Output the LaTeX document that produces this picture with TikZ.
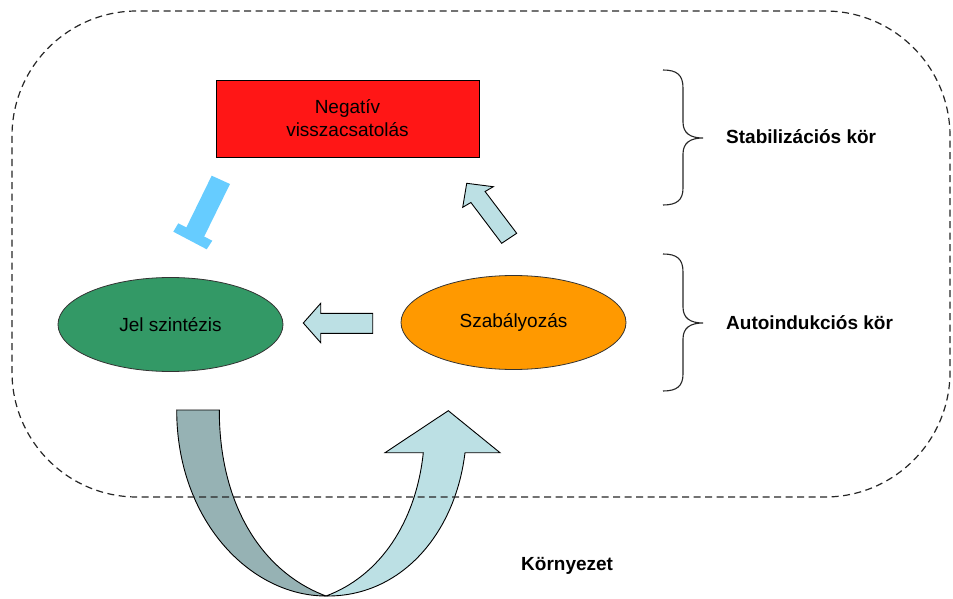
\documentclass[tikz,border=0pt]{standalone}
\usepackage{fontspec}
\setmainfont{Liberation Sans}
\usetikzlibrary{shapes.geometric}
\definecolor{negred}{RGB}{255,22,22}
\definecolor{jelgreen}{RGB}{51,153,102}
\definecolor{szaborange}{RGB}{255,153,0}
\definecolor{inhblue}{RGB}{102,204,255}
\definecolor{lightarrow}{RGB}{188,224,228}
\definecolor{darkband}{RGB}{150,178,180}
\tikzset{
  txt/.style={font=\fontsize{19}{23}\selectfont},
  boldtxt/.style={font=\fontsize{19}{23}\selectfont\bfseries, anchor=west, inner sep=0pt},
  feedbox/.style={txt, draw=black, line width=0.9pt, fill=negred, align=center,
    minimum width=263pt, minimum height=77pt, inner sep=0pt},
  stage/.style={txt, ellipse, draw=black!80, line width=0.8pt,
    minimum width=225pt, minimum height=94pt, inner sep=0pt},
  blockarrow/.style={draw=black, line width=0.9pt, fill=lightarrow, line join=miter},
  bracepath/.style={draw=black!85, line width=1.1pt},
  envline/.style={draw=black!85, line width=1.2pt, dash pattern=on 7pt off 4.5pt}
}
\begin{document}
\begin{tikzpicture}[x=1pt, y=-1pt]
\useasboundingbox (0,0) rectangle (953,599);

% main elements
\node[feedbox] (neg) at (347.5,118.5) {Negatív\\visszacsatolás};
\node[stage, fill=jelgreen] (jel) at (170.5,324.5) {Jel szintézis};
\node[stage, fill=szaborange] (szab) at (513.5,322.5) {Szabályozás};

% inhibition bar from the feedback to the synthesis
\fill[inhblue] (211.7,175.7) -- (230,184) -- (202.5,240) -- (184.6,231) -- cycle;
\fill[inhblue] (178.3,223.3) -- (212.3,240.7) -- (206.7,249.3) -- (173.3,231.7) -- cycle;

% regulation -> negative feedback
\path[blockarrow] (516.7,233.3) -- (485.1,191.5) -- (493.3,186.7) -- (466.7,183.3)
  -- (462.7,207.3) -- (470.9,202.5) -- (501.7,243.3) -- cycle;

% regulation -> signal synthesis
\path[blockarrow] (372.7,313.3) -- (320.7,313.3) -- (320.7,303.3) -- (303.3,323)
  -- (320.7,342.7) -- (320.7,333.3) -- (372.7,333.3) -- cycle;

% loop through the environment
\coordinate (ubottom) at (326,596);
\path[draw=black, line width=0.9pt, fill=darkband]
  (176.7,410) -- (219.3,410)
  .. controls (219.3,505) and (262,572) .. (ubottom)
  .. controls (250,596) and (176.7,520) .. (176.7,410) -- cycle;
\path[blockarrow]
  (ubottom) .. controls (400,597) and (455,535) .. (465,452.7)
  -- (500,452.7) -- (448.3,410.7) -- (385,452.7) -- (423.3,452.7)
  .. controls (416,522) and (380,576) .. (ubottom) -- cycle;

% environment boundary
\path[envline, rounded corners=125pt] (12,11) rectangle (950,497);

% braces
\path[bracepath] (663,70) .. controls (677,70) and (683,75) .. (683,88) -- (683,122)
  .. controls (683,133) and (690,138) .. (703,138)
  .. controls (690,138) and (683,143) .. (683,154) -- (683,188)
  .. controls (683,200) and (677,205) .. (663,205);
\path[bracepath] (663,254) .. controls (677,254) and (683,259) .. (683,272) -- (683,307)
  .. controls (683,318) and (690,323) .. (703,323)
  .. controls (690,323) and (683,328) .. (683,339) -- (683,374)
  .. controls (683,386) and (677,391) .. (663,391);

% labels
\node[boldtxt] (stab) at (726,137) {Stabilizációs kör};
\node[boldtxt] (auto) at (726,323) {Autoindukciós kör};
\node[boldtxt] (korny) at (521,566) {Környezet};
\end{tikzpicture}
\end{document}
